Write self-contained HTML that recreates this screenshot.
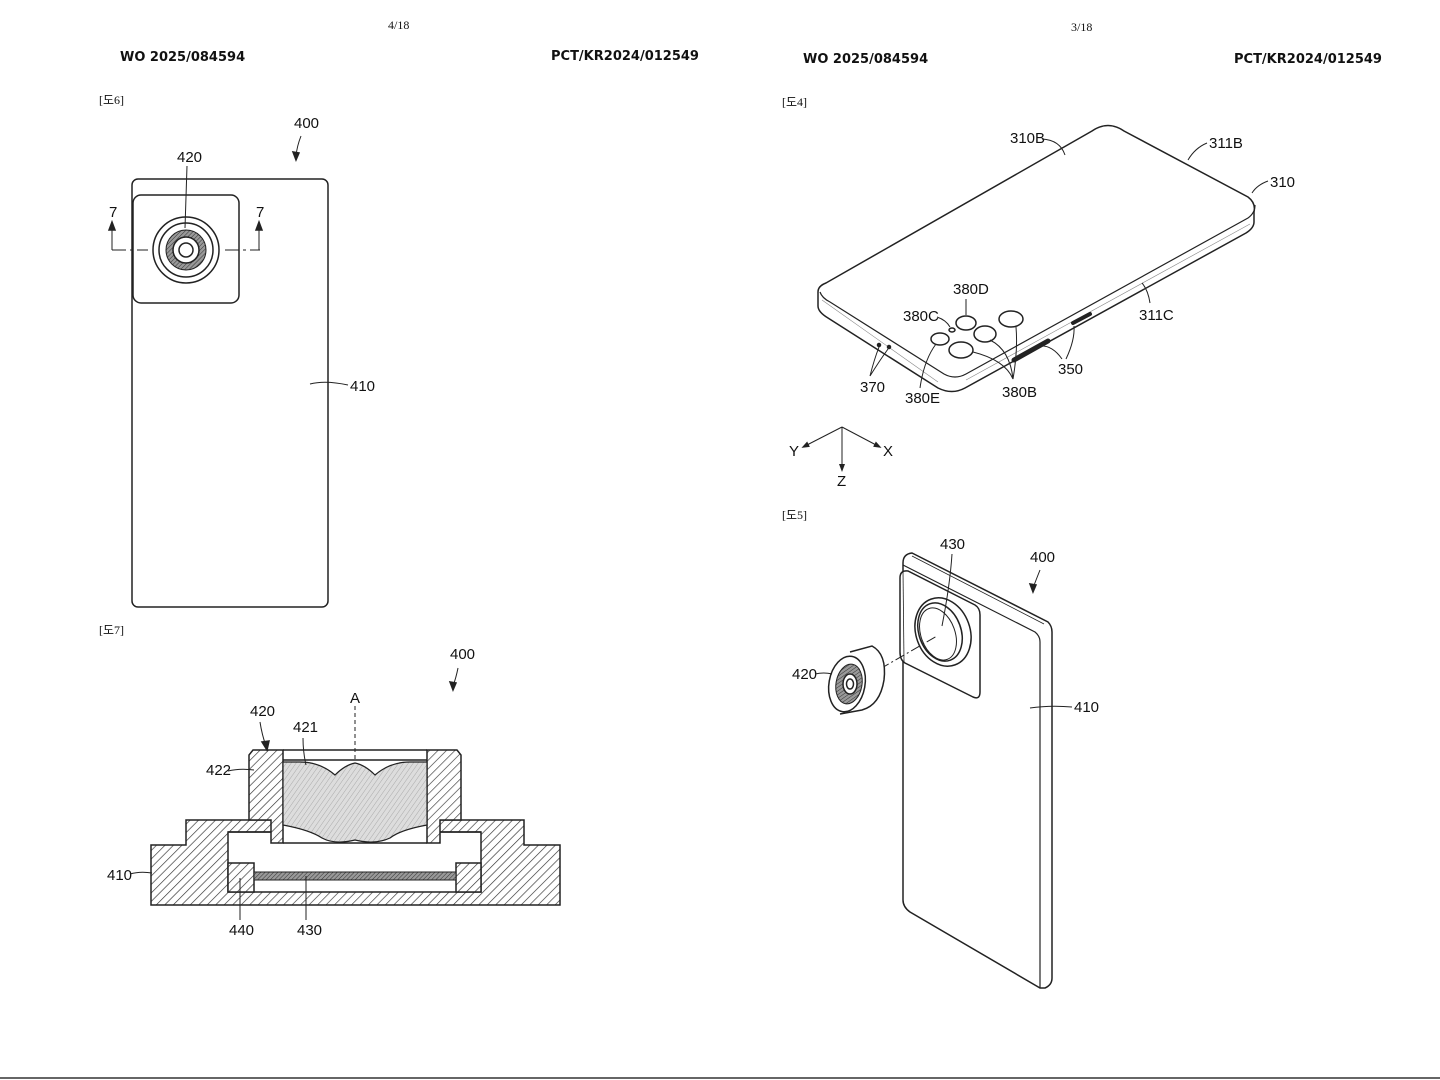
<!DOCTYPE html>
<html><head><meta charset="utf-8"><style>
html,body{margin:0;padding:0;background:#fff;}
svg{display:block;}
text{font-family:"Liberation Sans Narrow","Liberation Sans",sans-serif;fill:#111;}
.h{font-family:"DejaVu Sans","Liberation Sans",sans-serif;font-weight:bold;font-size:13px;}
.s{font-family:"Liberation Serif",serif;font-size:12px;}
.l{font-size:15px;transform-origin:center;}
</style></head><body>
<svg width="1440" height="1080" viewBox="0 0 1440 1080" xmlns="http://www.w3.org/2000/svg">
<defs>
<pattern id="hat" width="6" height="6" patternUnits="userSpaceOnUse" patternTransform="rotate(45)">
<rect width="6" height="6" fill="#fff"/><line x1="0" y1="0" x2="0" y2="6" stroke="#333" stroke-width="1.3"/></pattern>
<pattern id="hat2" width="5" height="5" patternUnits="userSpaceOnUse" patternTransform="rotate(45)">
<rect width="5" height="5" fill="#bbb"/><line x1="0" y1="0" x2="0" y2="5" stroke="#666" stroke-width="1.2"/></pattern>
<pattern id="dk" width="3" height="3" patternUnits="userSpaceOnUse" patternTransform="rotate(45)">
<rect width="3" height="3" fill="#999"/><line x1="0" y1="0" x2="0" y2="3" stroke="#333" stroke-width="1"/></pattern>
<pattern id="lens" width="4" height="4" patternUnits="userSpaceOnUse" patternTransform="rotate(35)">
<rect width="4" height="4" fill="#ddd"/><line x1="0" y1="0" x2="0" y2="4" stroke="#aaa" stroke-width="1"/></pattern>
<marker id="ar" markerWidth="8" markerHeight="8" refX="4" refY="4" orient="auto"><path d="M0,1 L8,4 L0,7 z" fill="#222"/></marker>
</defs>
<rect width="1440" height="1080" fill="#fff"/>
<line x1="0" y1="1078" x2="1440" y2="1078" stroke="#666" stroke-width="2"/>
<g fill="none" stroke="#222" stroke-width="1.5">

<!-- headers -->
<text x="388" y="29" class="s" stroke="none">4/18</text>
<text x="120" y="61" class="h" stroke="none">WO 2025/084594</text>
<text x="551" y="60" class="h" stroke="none">PCT/KR2024/012549</text>
<text x="1071" y="31" class="s" stroke="none">3/18</text>
<text x="803" y="63" class="h" stroke="none">WO 2025/084594</text>
<text x="1234" y="63" class="h" stroke="none">PCT/KR2024/012549</text>
<text x="99" y="104" class="s" stroke="none" font-size="13">[도6]</text>
<text x="99" y="634" class="s" stroke="none" font-size="13">[도7]</text>
<text x="782" y="106" class="s" stroke="none" font-size="13">[도4]</text>
<text x="782" y="519" class="s" stroke="none" font-size="13">[도5]</text>

<!-- FIG 6 -->
<rect x="132" y="179" width="196" height="428" rx="6"/>
<rect x="133" y="195" width="106" height="108" rx="8"/>
<circle cx="186" cy="250" r="33"/>
<circle cx="186" cy="250" r="27"/>
<circle cx="186" cy="250" r="20" fill="url(#dk)" stroke-width="1"/>
<circle cx="186" cy="250" r="13" fill="#fff"/>
<circle cx="186" cy="250" r="7"/>
<line x1="112" y1="250" x2="148" y2="250" stroke-dasharray="14,4,3,4" stroke-width="1"/>
<line x1="225" y1="250" x2="260" y2="250" stroke-dasharray="14,4,3,4" stroke-width="1"/>
<line x1="112" y1="250" x2="112" y2="228" stroke-width="1"/><path d="M109,230 L112,222 L115,230z" fill="#222"/>
<line x1="259" y1="250" x2="259" y2="228" stroke-width="1"/><path d="M256,230 L259,222 L262,230z" fill="#222"/>
<text x="109" y="217" class="l" stroke="none">7</text>
<text x="256" y="217" class="l" stroke="none">7</text>
<text x="177" y="162" class="l" stroke="none">420</text>
<path d="M187,166 Q186,200 185,228" stroke-width="1"/>
<text x="294" y="128" class="l" stroke="none">400</text>
<path d="M301,136 Q297,146 296,156" stroke-width="1"/><path d="M293,152 L296,160 L299,153z" fill="#222"/>
<text x="350" y="391" class="l" stroke="none">410</text>
<path d="M310,384 Q325,380 348,385" stroke-width="1"/>

<!-- FIG 7 -->
<path d="M151,845 L186,845 L186,820 L524,820 L524,845 L560,845 L560,905 L151,905 Z" fill="url(#hat)"/>
<rect x="228" y="832" width="253" height="60" fill="#fff"/>
<rect x="271" y="820" width="169" height="14" fill="#fff" stroke="none"/>
<path d="M228,832 L271,832 M440,832 L481,832" />
<path d="M253,750 L283,750 L283,843 L271,843 L271,820 L249,820 L249,755 Z" fill="url(#hat)"/>
<path d="M427,750 L457,750 L461,755 L461,820 L440,820 L440,843 L427,843 Z" fill="url(#hat)"/>
<line x1="283" y1="750" x2="427" y2="750"/>
<path d="M283,760 L427,760"/>
<path d="M283,762 L300,762 Q320,762 335,775 Q345,765 355,763 Q365,765 375,775 Q390,762 410,762 L427,762 L427,825 Q400,830 390,838 Q375,845 355,840 Q335,845 322,838 Q310,830 283,825 Z" fill="url(#lens)" stroke-width="1.2"/>
<line x1="283" y1="843" x2="427" y2="843"/>
<rect x="228" y="863" width="26" height="29" fill="url(#hat)"/>
<rect x="456" y="863" width="25" height="29" fill="url(#hat)"/>
<rect x="254" y="872" width="202" height="8" fill="url(#dk)" stroke-width="1"/>
<line x1="355" y1="706" x2="355" y2="762" stroke-dasharray="4,3" stroke-width="1"/>
<text x="350" y="703" class="l" stroke="none">A</text>
<text x="450" y="659" class="l" stroke="none">400</text>
<path d="M458,668 Q456,678 453,686" stroke-width="1"/><path d="M450,682 L453,690 L456,683z" fill="#222"/>
<text x="250" y="716" class="l" stroke="none">420</text>
<path d="M260,722 Q262,735 266,746" stroke-width="1"/><path d="M262,742 L267,750 L269,741z" fill="#222"/>
<text x="293" y="732" class="l" stroke="none">421</text>
<path d="M303,738 Q303,752 306,765" stroke-width="1"/>
<text x="206" y="775" class="l" stroke="none">422</text>
<path d="M228,771 Q240,768 254,770" stroke-width="1"/>
<text x="107" y="880" class="l" stroke="none">410</text>
<path d="M130,874 Q140,871 152,873" stroke-width="1"/>
<text x="229" y="935" class="l" stroke="none">440</text>
<path d="M240,920 Q240,900 240,878" stroke-width="1"/>
<text x="297" y="935" class="l" stroke="none">430</text>
<path d="M306,920 Q306,900 306,876" stroke-width="1"/>

<!-- FIG 4 -->
<path d="M818,292 Q818,286 826,283 L1092,131 Q1108,120 1124,131 L1248,197 Q1256,203 1254,212 L1254,222 Q1254,228 1246,233 L965,388 Q952,395 938,388 L828,318 Q818,312 818,306 Z" fill="#fff"/>
<path d="M820,292 Q822,298 830,302 L944,374 Q955,380 966,374 L1248,218 Q1255,213 1255,205" stroke-width="1.2"/>
<path d="M822,300 L938,382 M966,380 L1250,224" stroke-width="0.6" stroke="#888"/>
<ellipse cx="966" cy="323" rx="10" ry="7"/>
<ellipse cx="952" cy="330" rx="3" ry="2"/>
<ellipse cx="940" cy="339" rx="9" ry="6"/>
<ellipse cx="985" cy="334" rx="11" ry="8"/>
<ellipse cx="1011" cy="319" rx="12" ry="8"/>
<ellipse cx="961" cy="350" rx="12" ry="8"/>
<path d="M1014,360 L1048,341" stroke-width="5" stroke-linecap="round"/>
<path d="M1073,323 L1090,314" stroke-width="4" stroke-linecap="round"/>
<circle cx="879" cy="345" r="1.5" fill="#222"/><circle cx="889" cy="347" r="1.5" fill="#222"/>
<text x="1010" y="143" class="l" stroke="none">310B</text>
<path d="M1042,139 Q1060,140 1065,155" stroke-width="1"/>
<text x="1209" y="148" class="l" stroke="none">311B</text>
<path d="M1207,143 Q1195,148 1188,160" stroke-width="1"/>
<text x="1270" y="187" class="l" stroke="none">310</text>
<path d="M1268,181 Q1257,185 1252,193" stroke-width="1"/>
<text x="1139" y="320" class="l" stroke="none">311C</text>
<path d="M1150,303 Q1148,290 1142,283" stroke-width="1"/>
<text x="953" y="294" class="l" stroke="none">380D</text>
<line x1="966" y1="299" x2="966" y2="315" stroke-width="1"/>
<text x="903" y="321" class="l" stroke="none">380C</text>
<path d="M937,317 Q946,320 950,327" stroke-width="1"/>
<text x="905" y="403" class="l" stroke="none">380E</text>
<path d="M920,388 Q924,360 936,344" stroke-width="1"/>
<text x="1002" y="397" class="l" stroke="none">380B</text>
<path d="M1013,379 Q1005,360 973,352 M1013,379 Q1010,350 990,340 M1013,379 Q1018,350 1016,327" stroke-width="1"/>
<text x="1058" y="374" class="l" stroke="none">350</text>
<path d="M1062,359 Q1052,345 1040,346 M1066,359 Q1075,340 1074,326" stroke-width="1"/>
<text x="860" y="392" class="l" stroke="none">370</text>
<path d="M870,376 Q874,360 879,347 M870,376 Q880,360 888,349" stroke-width="1"/>
<line x1="842" y1="427" x2="842" y2="468" stroke-width="1" marker-end="url(#ar)"/>
<line x1="842" y1="427" x2="805" y2="446" stroke-width="1" marker-end="url(#ar)"/>
<line x1="842" y1="427" x2="878" y2="446" stroke-width="1" marker-end="url(#ar)"/>
<text x="789" y="456" class="l" stroke="none">Y</text>
<text x="883" y="456" class="l" stroke="none">X</text>
<text x="837" y="486" class="l" stroke="none">Z</text>

<!-- FIG 5 -->
<path d="M903,563 Q903,554 912,553 L1048,622 Q1052,626 1052,632 L1052,978 Q1052,985 1045,988 L1040,988 L910,912 Q903,907 903,900 Z" fill="#fff"/>
<path d="M903,565 L1035,632 Q1040,636 1040,642 L1040,988" stroke-width="1.2"/>
<path d="M912,556 L1044,624" stroke-width="0.8"/>
<path d="M900,578 Q900,570 908,571 L975,605 Q980,608 980,615 L980,692 Q980,700 973,697 L905,663 Q900,660 900,652 Z" fill="#fff"/>
<path d="M903,570 L904,662" stroke-width="0.8"/>
<ellipse cx="943" cy="632" rx="27" ry="35" transform="rotate(-20 943 632)" fill="#fff"/>
<ellipse cx="940" cy="632" rx="21" ry="30" transform="rotate(-20 940 632)"/>
<ellipse cx="938" cy="634" rx="17" ry="27" transform="rotate(-20 938 634)" stroke-width="1"/>
<line x1="880" y1="669" x2="937" y2="636" stroke-dasharray="10,3,2,3" stroke-width="1"/>
<path d="M850,652 L872,646 Q887,654 884,680 Q880,705 862,710 L840,714" fill="#fff"/>
<ellipse cx="847" cy="684" rx="18" ry="28" transform="rotate(10 847 684)" fill="#fff"/>
<ellipse cx="849" cy="684" rx="13" ry="20" transform="rotate(10 849 684)" fill="url(#dk)" stroke-width="1"/>
<ellipse cx="850" cy="684" rx="7" ry="10" fill="#fff"/>
<ellipse cx="850" cy="684" rx="3.5" ry="5"/>
<text x="940" y="549" class="l" stroke="none">430</text>
<path d="M952,554 Q950,585 942,626" stroke-width="1"/>
<text x="1030" y="562" class="l" stroke="none">400</text>
<path d="M1040,570 Q1036,580 1033,588" stroke-width="1"/><path d="M1030,584 L1033,592 L1036,585z" fill="#222"/>
<text x="792" y="679" class="l" stroke="none">420</text>
<path d="M815,674 Q824,672 832,674" stroke-width="1"/>
<text x="1074" y="712" class="l" stroke="none">410</text>
<path d="M1030,708 Q1050,705 1072,707" stroke-width="1"/>
</g>
</svg>
</body></html>
